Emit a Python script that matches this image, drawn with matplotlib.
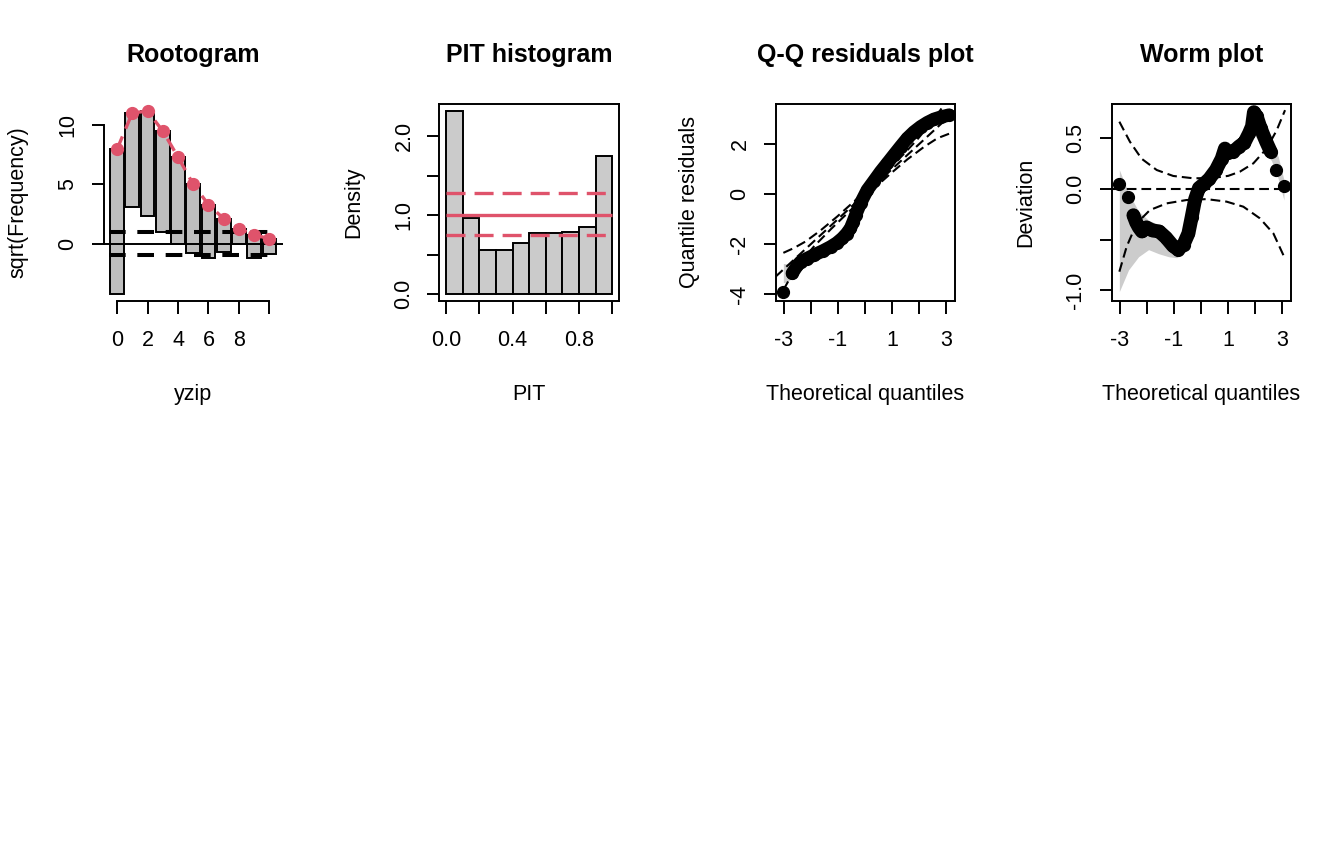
import numpy as np
import matplotlib
matplotlib.use("Agg")
import matplotlib.pyplot as plt

plt.rcParams['font.family'] = ['Liberation Sans', 'DejaVu Sans']
plt.rcParams['axes.unicode_minus'] = False
plt.rcParams['lines.scale_dashes'] = False

RED = '#DF536B'

# ---- rootogram (hanging), sqrt scale
root_x = [0, 1, 2, 3, 4, 5, 6, 7, 8, 9, 10]
root_sqrt_exp = [7.96, 11.03, 11.18, 9.50, 7.30, 5.00, 3.28, 2.10, 1.24, 0.74, 0.40]
root_sqrt_obs = [12.25, 7.96, 8.85, 8.55, 7.32, 5.84, 4.53, 2.78, 1.29, 1.96, 1.32]

# ---- PIT histogram
pit_edges = [0.0, 0.1, 0.2, 0.3, 0.4, 0.5, 0.6, 0.7, 0.8, 0.9, 1.0]
pit_density = [2.325, 0.969, 0.560, 0.552, 0.644, 0.779, 0.767, 0.787, 0.855, 1.747]
pit_ref = 1.0
pit_ci = [0.745, 1.28]

# ---- Q-Q residuals (theoretical, sample)
qq_x = [-3.02, -2.69, -2.50, -2.38, -2.15, -1.89, -1.55, -1.27, -1.05, -0.84, -0.68, -0.54, -0.44,
        -0.35, -0.17, 0.08, 0.33, 0.57, 0.82, 1.06, 1.31, 1.56, 1.80, 2.05, 2.30, 2.54, 2.80, 3.10]
qq_y = [-3.93, -3.17, -2.85, -2.71, -2.58, -2.44, -2.27, -2.11, -1.96, -1.77, -1.58, -1.37, -1.10,
        -0.84, -0.37, 0.16, 0.53, 0.89, 1.23, 1.56, 1.90, 2.23, 2.48, 2.69, 2.86, 2.99, 3.08, 3.16]
qq_sim_x = [-3.02, -2.85, -2.69, -2.50]
qq_sim_hi = [-2.78, -2.80, -2.85, -2.75]
qq_sim_lo = [-3.55, -3.50, -3.35, -2.95]

# ---- worm plot (theoretical, deviation)
worm_x = [-3.02, -2.69, -2.50, -2.40, -2.30, -2.19, -2.02, -1.80, -1.55, -1.30, -1.05, -0.85, -0.65,
          -0.47, -0.35, -0.22, -0.08, 0.10, 0.30, 0.55, 0.76, 0.88, 1.00, 1.19, 1.40, 1.60, 1.77,
          1.88, 1.95, 2.05, 2.20, 2.40, 2.57, 2.75, 3.06]
worm_y = [0.05, -0.08, -0.26, -0.33, -0.38, -0.42, -0.38, -0.41, -0.42, -0.48, -0.56, -0.60, -0.55,
          -0.44, -0.28, -0.10, 0.01, 0.05, 0.10, 0.19, 0.30, 0.40, 0.36, 0.37, 0.42, 0.46, 0.55,
          0.62, 0.76, 0.72, 0.60, 0.47, 0.37, 0.19, 0.03]
sim_x = [-3.02, -2.68, -2.31, -1.94, -1.57, -1.20, -0.90, -0.60, -0.35, -0.10, 0.20, 0.55, 0.90,
         1.30, 1.70, 1.95, 2.30, 2.60, 2.85, 3.06]
sim_hi = [0.19, -0.04, -0.22, -0.31, -0.35, -0.43, -0.52, -0.46, -0.20, 0.05, 0.10, 0.24, 0.45,
          0.44, 0.57, 0.66, 0.52, 0.44, 0.32, 0.09]
sim_lo = [-1.015, -0.80, -0.67, -0.60, -0.64, -0.67, -0.68, -0.60, -0.33, -0.06, 0.01, 0.14, 0.33,
          0.31, 0.44, 0.55, 0.38, 0.28, 0.10, -0.11]
env_up_x = [-3.02, -2.63, -2.20, -1.64, -1.03, -0.29, 0.40, 1.00, 1.43, 1.93, 2.42, 2.79, 3.10]
env_up_y = [0.666, 0.468, 0.300, 0.188, 0.129, 0.106, 0.108, 0.130, 0.171, 0.254, 0.400, 0.580, 0.780]
env_lo_x = [-3.02, -2.75, -2.38, -1.89, -1.27, -0.54, 0.20, 0.94, 1.56, 2.17, 2.67, 3.10]
env_lo_y = [-0.818, -0.570, -0.340, -0.208, -0.142, -0.109, -0.100, -0.125, -0.175, -0.290, -0.440, -0.690]

W, H = 1344, 864
LEFTS = [103.5, 439.5, 775.5, 1111.5]
AW, TOP, BOT = 179.5, 104, 301
FS = 15.5
DASH_K = (0, (7, 3.6))

fig = plt.figure(figsize=(W / 100, H / 100), dpi=100)


def make_ax(i, title, xlab, ylab):
    ax = fig.add_axes([LEFTS[i] / W, 1 - BOT / H, AW / W, (BOT - TOP) / H])
    cx = LEFTS[i] + AW / 2
    fig.text(cx / W, 1 - 62 / H, title, ha='center', va='baseline', fontsize=18, fontweight='bold')
    fig.text(cx / W, 1 - 399.5 / H, xlab, ha='center', va='baseline', fontsize=FS)
    fig.text((LEFTS[i] - 80.3) / W, 1 - (TOP + BOT) / 2 / H, ylab, rotation=90, rotation_mode='anchor',
             ha='center', va='baseline', fontsize=FS)
    for s in ax.spines.values():
        s.set_linewidth(1.4)
    ax.tick_params(length=9, width=1.4, labelsize=FS)
    ax.tick_params(axis='x', pad=12)
    ax.tick_params(axis='y', pad=9, labelrotation=90)
    return ax


def yticks(ax, vals, labs):
    ax.set_yticks(vals)
    ax.set_yticklabels(labs, rotation=90, va='center', ha='right')


# ---- Rootogram
ax = make_ax(0, 'Rootogram', 'yzip', 'sqrt(Frequency)')
bottoms = np.array(root_sqrt_exp) - np.array(root_sqrt_obs)
ax.bar(root_x, root_sqrt_obs, bottom=bottoms, width=0.9, color='#BEBEBE', edgecolor='black', linewidth=1.4, zorder=2)
ax.axhline(0, color='black', lw=1.4, zorder=3)
ax.hlines([-1, 1], -0.5, 10.5, colors='black', lw=2.9, linestyles=(0, (12, 8.4)), zorder=3)
ax.plot(root_x, root_sqrt_exp, color=RED, lw=2.4, linestyle=(0, (10, 6)), zorder=4)
ax.plot(root_x, root_sqrt_exp, 'o', color=RED, ms=8.5, zorder=5)
ax.set_xlim(-0.89, 10.89)
ax.set_ylim(-4.85, 11.78)
for s in ['top', 'right']:
    ax.spines[s].set_visible(False)
ax.spines['left'].set_bounds(0, 10)
ax.spines['bottom'].set_bounds(0, 10)
ax.set_xticks([0, 2, 4, 6, 8, 10])
ax.set_xticklabels(['0', '2', '4', '6', '8', ''])
yticks(ax, [0, 5, 10], ['0', '5', '10'])

# ---- PIT histogram
ax = make_ax(1, 'PIT histogram', 'PIT', 'Density')
ax.bar(pit_edges[:-1], pit_density, width=np.diff(pit_edges), align='edge', color='#CBCBCB',
       edgecolor='black', linewidth=1.4, zorder=2)
ax.hlines(pit_ref, pit_edges[0], pit_edges[-1], colors=RED, lw=2.4, zorder=3)
ax.hlines(pit_ci, pit_edges[0], pit_edges[-1], colors=RED, lw=2.4, linestyles=(0, (13.7, 6.5)), zorder=3)
ax.set_xlim(-0.04, 1.04)
ax.set_ylim(-0.09, 2.41)
ax.set_xticks([0.0, 0.2, 0.4, 0.6, 0.8, 1.0])
ax.set_xticklabels(['0.0', '', '0.4', '', '0.8', ''])
yticks(ax, [0.0, 0.5, 1.0, 1.5, 2.0], ['0.0', '', '1.0', '', '2.0'])

# ---- Q-Q residuals plot
ax = make_ax(2, 'Q-Q residuals plot', 'Theoretical quantiles', 'Quantile residuals')
ax.fill_between(qq_sim_x, qq_sim_lo, qq_sim_hi, color='#CCCCCC', lw=0, zorder=1)
ax.axline((0, 0), slope=1, color='black', lw=1.5, linestyle=DASH_K, zorder=2)
ax.plot(env_up_x, np.array(env_up_x) + np.array(env_up_y), color='black', lw=1.5, linestyle=DASH_K, zorder=2)
ax.plot(env_lo_x, np.array(env_lo_x) + np.array(env_lo_y), color='black', lw=1.5, linestyle=DASH_K, zorder=2)
ax.plot(qq_x[1:], qq_y[1:], color='black', lw=9.5, solid_capstyle='round', solid_joinstyle='round', zorder=3)
ax.plot(qq_x, qq_y, 'o', color='black', ms=8.5, zorder=4)
ax.set_xlim(-3.31, 3.32)
ax.set_ylim(-4.28, 3.60)
ax.set_xticks([-3, -2, -1, 0, 1, 2, 3])
ax.set_xticklabels(['-3', '', '-1', '', '1', '', '3'])
yticks(ax, [-4, -2, 0, 2], ['-4', '-2', '0', '2'])

# ---- Worm plot
ax = make_ax(3, 'Worm plot', 'Theoretical quantiles', 'Deviation')
ax.fill_between(sim_x, sim_lo, sim_hi, color='#CCCCCC', lw=0, zorder=1)
ax.axhline(0, color='black', lw=1.5, linestyle=DASH_K, zorder=2)
ax.plot(env_up_x, env_up_y, color='black', lw=1.5, linestyle=DASH_K, zorder=2)
ax.plot(env_lo_x, env_lo_y, color='black', lw=1.5, linestyle=DASH_K, zorder=2)
ax.plot(worm_x[2:-2], worm_y[2:-2], color='black', lw=10, solid_capstyle='round', solid_joinstyle='round', zorder=3)
ax.plot(worm_x, worm_y, 'o', color='black', ms=8.5, zorder=4)
ax.set_xlim(-3.31, 3.32)
ax.set_ylim(-1.108, 0.841)
ax.set_xticks([-3, -2, -1, 0, 1, 2, 3])
ax.set_xticklabels(['-3', '', '-1', '', '1', '', '3'])
yticks(ax, [-1.0, -0.5, 0.0, 0.5], ['-1.0', '', '0.0', '0.5'])

fig.savefig('out.png', dpi=100)
